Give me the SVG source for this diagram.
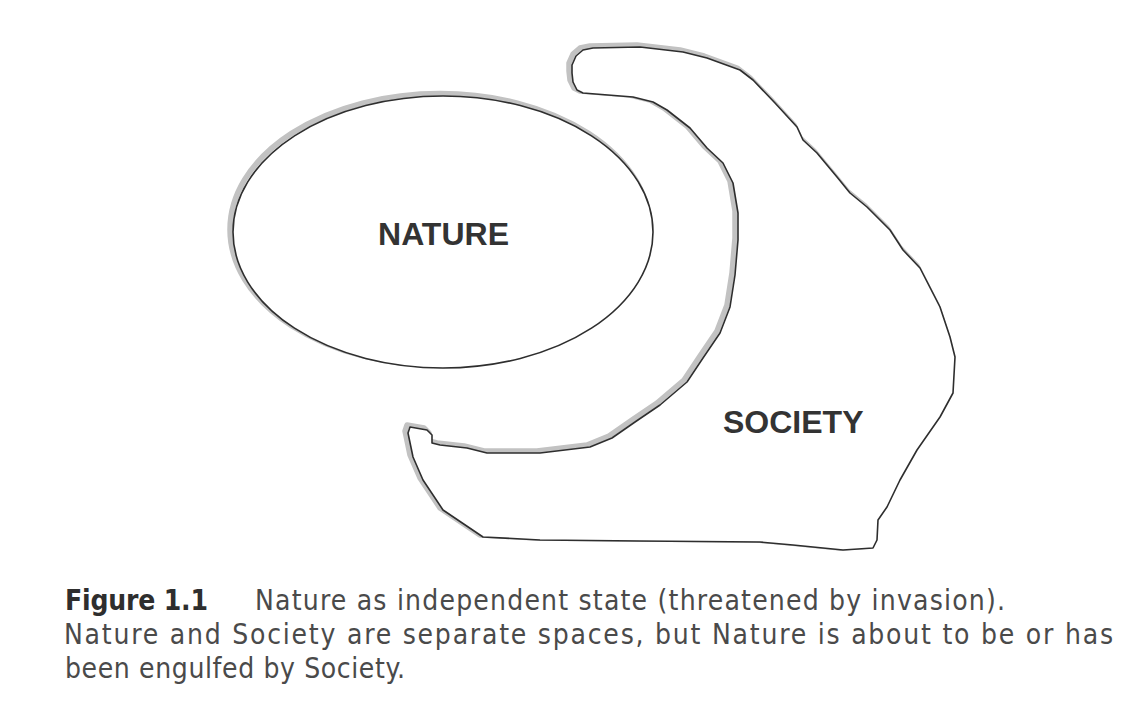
<svg xmlns="http://www.w3.org/2000/svg" width="1132" height="715" viewBox="0 0 1132 715">
<style>
.shadow{fill:none;stroke:#c2c2c2;stroke-width:5.5;stroke-linejoin:round}
.outline{fill:#fff;stroke:#2e2e2e;stroke-width:1.6;stroke-linejoin:round}
.label{font-family:"Liberation Sans",Arial,sans-serif;font-weight:bold;font-size:32px;fill:#333}
.cap{font-family:"DejaVu Sans Condensed","DejaVu Sans","Liberation Sans",sans-serif;font-size:28px;fill:#4a4a4a}
.capb{font-weight:bold;fill:#2e2e2e}
</style>
<defs>
<path id="socPath" d="M572,73 L572,65 L576,56 L583,50 L593,48 L640,47 L683,52 L707,58 L740,70 L753,80 L775,103 L797,127 L803,140 L817,153 L837,177 L850,193 L867,207 L890,230 L903,250 L920,268 L940,307 L950,337 L955,357 L953,393 L940,417 L917,450 L900,480 L887,507 L878,520 L877,540 L873,548 L843,550 L793,545 L760,542 L640,541 L540,540 L483,537 L443,510 L423,480 L413,457 L408,433 L410,427 L427,430 L432,435 L432,443 L440,445 L467,448 L487,453 L540,453 L590,447 L612,438 L635,422 L660,405 L687,382 L703,358 L720,333 L730,307 L735,275 L738,240 L738,213 L733,183 L723,163 L707,148 L690,128 L667,110 L653,102 L633,97 L583,93 L577,90 L573,82 Z"/>
</defs>
<rect width="1132" height="715" fill="#fff"/>
<g id="nature">
<ellipse class="shadow" cx="440" cy="229.5" rx="210" ry="136"/>
<ellipse class="outline" cx="443" cy="232" rx="210" ry="136"/>
<text class="label" x="443.5" y="245" text-anchor="middle">NATURE</text>
</g>
<g id="society">
<use href="#socPath" class="shadow" transform="translate(-3,-2)"/>
<use href="#socPath" class="outline"/>
<text class="label" x="723" y="433">SOCIETY</text>
</g>
<g id="connectors"></g>
<g id="caption">
<text class="cap capb" x="65" y="610" textLength="143">Figure 1.1</text>
<text class="cap" x="255" y="610" textLength="750">Nature as independent state (threatened by invasion).</text>
<text class="cap" x="64" y="644" textLength="1049">Nature and Society are separate spaces, but Nature is about to be or has</text>
<text class="cap" x="65" y="678" textLength="340">been engulfed by Society.</text>
</g>
</svg>
